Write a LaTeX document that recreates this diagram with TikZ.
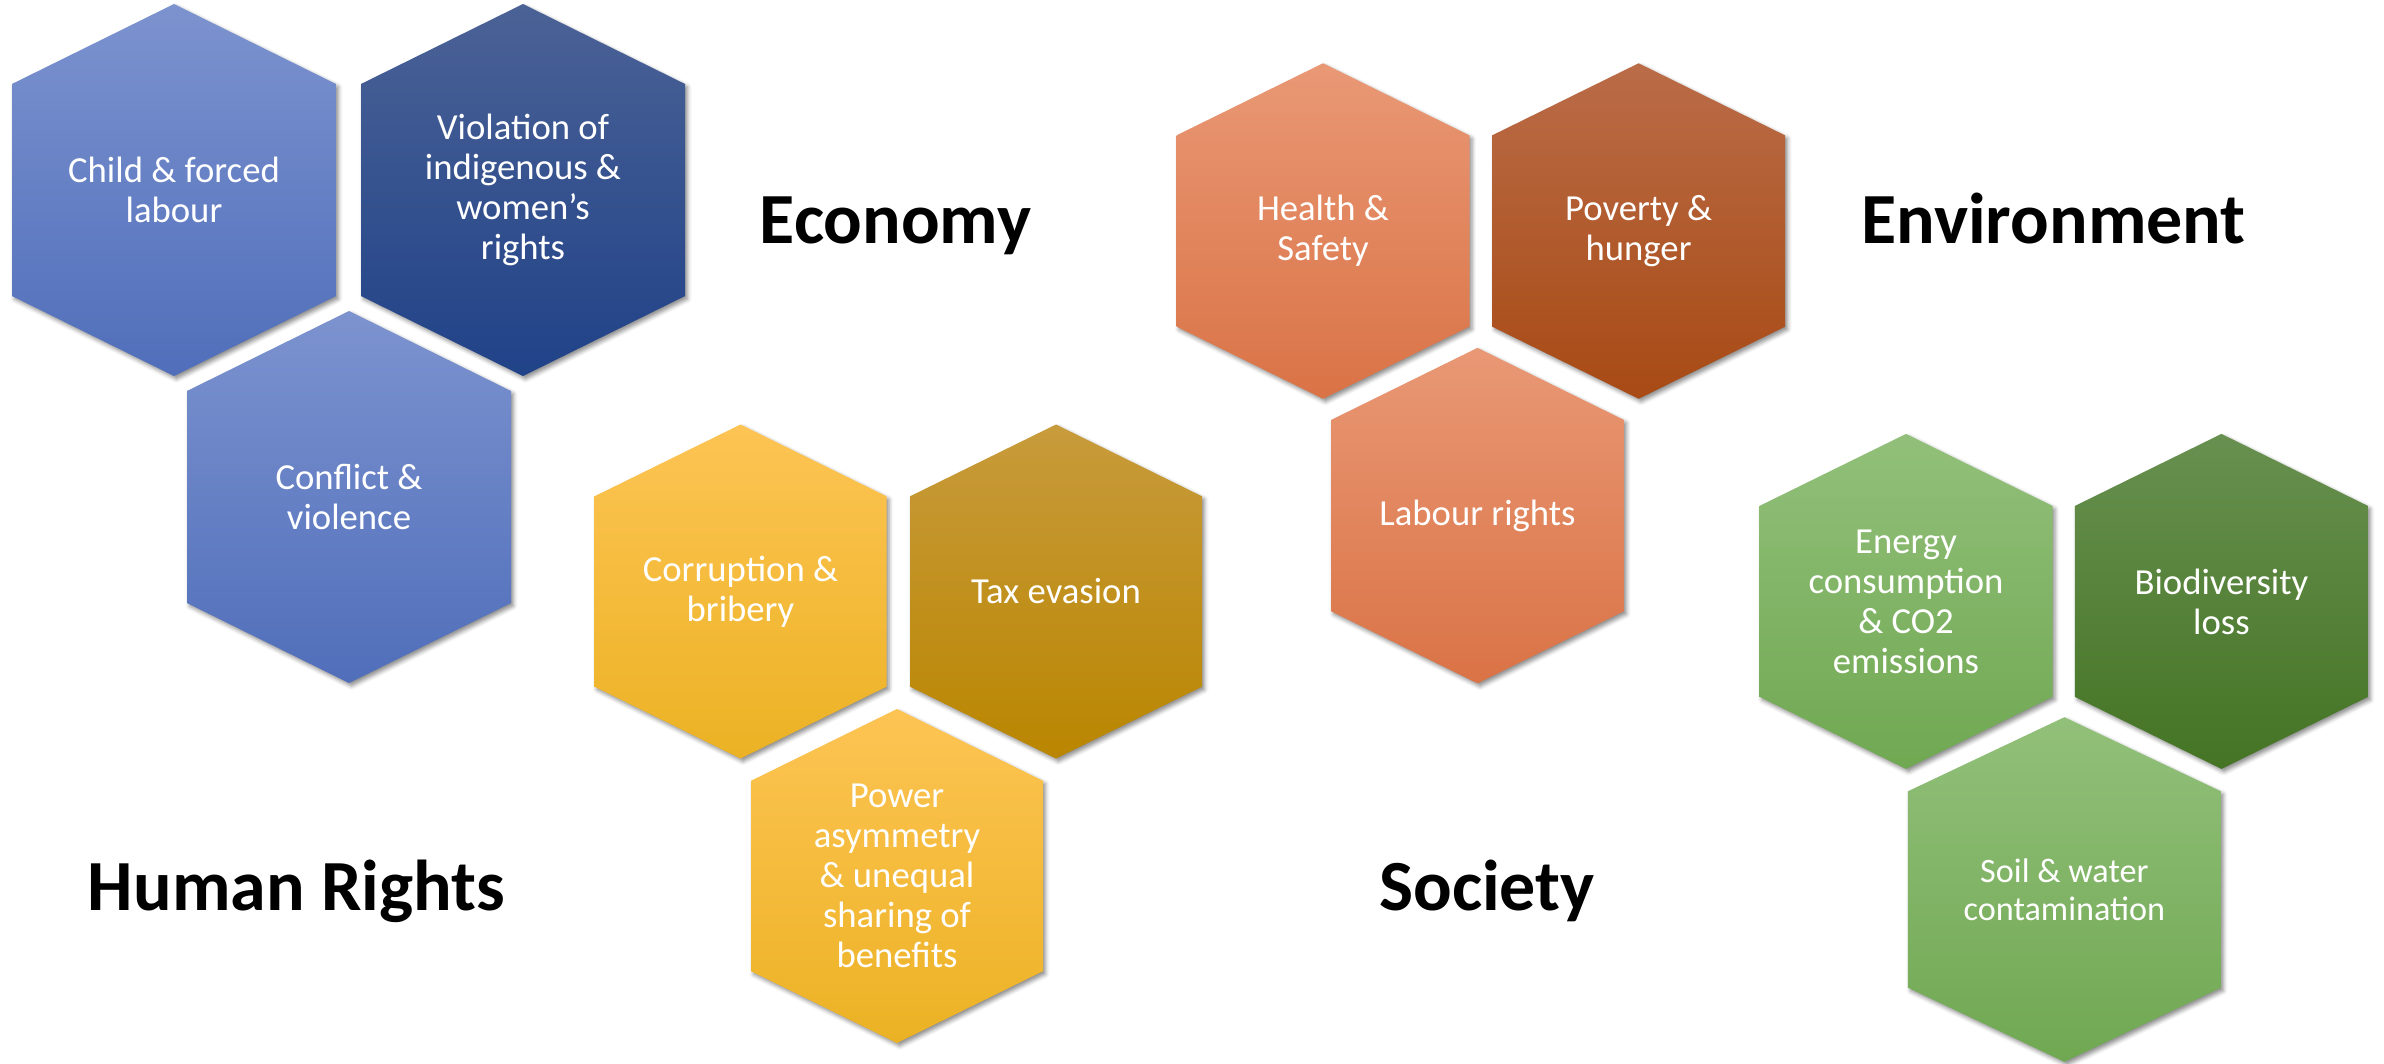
\documentclass[tikz,border=0pt]{standalone}
\usepackage{fontspec}
\setmainfont{Carlito}
\usetikzlibrary{shadows.blur}
\definecolor{BlueTop}{HTML}{7C93CF}
\definecolor{BlueBot}{HTML}{506EBA}
\definecolor{NavyTop}{HTML}{4B6296}
\definecolor{NavyBot}{HTML}{204288}
\definecolor{GoldTop}{HTML}{FDC454}
\definecolor{GoldBot}{HTML}{ECB224}
\definecolor{OchreTop}{HTML}{C89B3C}
\definecolor{OchreBot}{HTML}{BA8600}
\definecolor{SalmonTop}{HTML}{E99875}
\definecolor{SalmonBot}{HTML}{DA7346}
\definecolor{RustTop}{HTML}{BA6C48}
\definecolor{RustBot}{HTML}{A84A14}
\definecolor{LeafTop}{HTML}{92C07A}
\definecolor{LeafBot}{HTML}{70A852}
\definecolor{ForestTop}{HTML}{689050}
\definecolor{ForestBot}{HTML}{447424}
\tikzset{
  hexshape/.style={blur shadow={shadow xshift=2.5pt,shadow yshift=-3pt,shadow blur radius=4pt,shadow opacity=45}},
  hextext/.style={text=white,align=center,font=\fontsize{36.7}{40}\selectfont,inner sep=0pt},
  smallhextext/.style={hextext,font=\fontsize{34.2}{38.3}\selectfont},
  titletext/.style={text=black,font=\fontsize{72}{80}\selectfont\bfseries,inner sep=0pt,anchor=base},
  bluefill/.style={top color=BlueTop,bottom color=BlueBot},
  navyfill/.style={top color=NavyTop,bottom color=NavyBot},
  goldfill/.style={top color=GoldTop,bottom color=GoldBot},
  ochrefill/.style={top color=OchreTop,bottom color=OchreBot},
  salmonfill/.style={top color=SalmonTop,bottom color=SalmonBot},
  rustfill/.style={top color=RustTop,bottom color=RustBot},
  leaffill/.style={top color=LeafTop,bottom color=LeafBot},
  forestfill/.style={top color=ForestTop,bottom color=ForestBot}
}
% #1 name, #2 cx, #3 cy, #4 width, #5 height, #6 fill style, #7 text style, #8 text
\newcommand{\hexcell}[8]{%
  \path[hexshape,#6] ({#2},{#3-#5/2}) -- ({#2+#4/2},{#3-0.285*#5}) -- ({#2+#4/2},{#3+0.285*#5}) -- ({#2},{#3+#5/2}) -- ({#2-#4/2},{#3+0.285*#5}) -- ({#2-#4/2},{#3-0.285*#5}) -- cycle;
  \node[#7] (#1) at (#2,#3) {#8};
}
\begin{document}
\begin{tikzpicture}[x=1pt,y=-1pt]
\useasboundingbox (0,0) rectangle (2384,1063);
% Human rights (blue)
\hexcell{child}{174}{190}{324}{372}{bluefill}{hextext}{Child \& forced\\labour}
\hexcell{violation}{523}{190}{324}{372}{navyfill}{hextext}{Violation of\\indigenous \&\\women’s\\rights}
\hexcell{conflict}{349}{497}{324}{372}{bluefill}{hextext}{Conflict \&\\violence}
% Economy (yellow)
\hexcell{corruption}{740.5}{591.5}{292}{334}{goldfill}{hextext}{Corruption \&\\bribery}
\hexcell{tax}{1056}{591.5}{292}{334}{ochrefill}{hextext}{Tax evasion}
\hexcell{power}{897}{876}{292}{334}{goldfill}{hextext}{Power\\asymmetry\\\& unequal\\sharing of\\benefits}
% Society (orange)
\hexcell{health}{1323}{231}{293}{335.5}{salmonfill}{hextext}{Health \&\\Safety}
\hexcell{poverty}{1638.6}{231}{293}{335.5}{rustfill}{hextext}{Poverty \&\\hunger}
\hexcell{labour}{1477.5}{515.6}{293}{335.5}{salmonfill}{hextext}{Labour rights}
% Environment (green)
\hexcell{energy}{1906}{601.4}{293}{335}{leaffill}{hextext}{Energy\\consumption\\\& CO2\\emissions}
\hexcell{biodiv}{2221.4}{601.4}{293}{335}{forestfill}{hextext}{Biodiversity\\loss}
\hexcell{soil}{2064.4}{889.5}{313}{344.6}{leaffill}{smallhextext}{Soil \& water\\contamination}
% Titles
\node[titletext] (economy) at (895.5,243) {Economy};
\node[titletext] (environment) at (2053.5,243) {Environment};
\node[titletext] (humanrights) at (296.5,910) {Human Rights};
\node[titletext] (society) at (1487,910) {Society};
\end{tikzpicture}
\end{document}
